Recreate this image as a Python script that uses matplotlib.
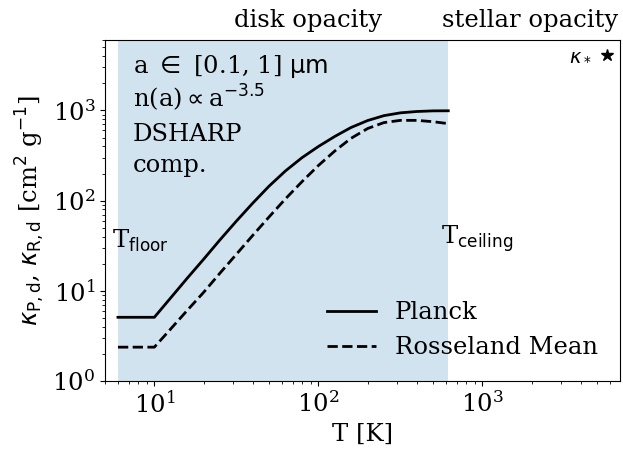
import numpy as np
import matplotlib
matplotlib.use("Agg")
import matplotlib.pyplot as plt
import matplotlib.transforms as mtransforms

plt.rcParams['font.family'] = 'serif'
plt.rcParams['font.serif'] = ['DejaVu Serif']
plt.rcParams['mathtext.fontset'] = 'dejavusans'
plt.rcParams['font.size'] = 17.5

# Temperatures [K] and mean opacities [cm^2 g^-1]
T_grid = [6, 10, 12.6, 15.8, 20.0, 25.1, 31.6, 39.8, 50.1, 63.1, 79.4, 100,
          126, 158, 200, 251, 316, 398, 501, 620]
kappa_planck = [5.1, 5.1, 8.4, 13.7, 22.5, 36.7, 59.2, 93.8, 145, 214, 299, 398,
                515, 646, 773, 875, 940, 973, 989, 991]
kappa_ross = [2.38, 2.38, 3.80, 6.03, 9.66, 15.7, 25.4, 41.2, 66.1, 105, 162, 245,
              355, 490, 631, 733, 776, 776, 750, 714]

T_floor = 6
T_ceiling = 620
T_star = 5780
kappa_star = 4070

fig = plt.figure(figsize=(6.23, 4.57), dpi=100)
ax = fig.add_axes([0.1685, 0.166, 0.8265, 0.746])

ax.axvspan(T_floor, T_ceiling, color='tab:blue', alpha=0.2, lw=0)
ax.loglog(T_grid, kappa_planck, 'k-', lw=2, label='Planck')
ax.loglog(T_grid, kappa_ross, 'k--', lw=2, label='Rosseland Mean')
ax.plot([T_star], [kappa_star], 'k*', ms=9)
ax.text(T_star * 0.8, kappa_star, r'$\kappa_*$', ha='right', va='center', fontsize=14)

ax.set_xlim(5, 6900)
ax.set_ylim(1, 6000)
ax.set_xlabel('T [K]')
ax.set_ylabel(r'$\kappa_\mathrm{P,d}$, $\kappa_\mathrm{R,d}$ [cm$^2$ g$^{-1}$]')

ax.text(5.5, 36, r'T$_\mathrm{floor}$', ha='left', va='center')
ax.text(560, 38, r'T$_\mathrm{ceiling}$', ha='left', va='center')

# grain info, one line at a time for even spacing
info = ['a $\\in$ [0.1, 1] $\\mathrm{\\mu m}$', 'n(a)$\\propto$a$^{-3.5}$', 'DSHARP', 'comp.']
for line, yy in zip(info, [0.905, 0.804, 0.705, 0.613]):
    ax.text(0.054, yy, line, transform=ax.transAxes, ha='left', va='baseline')

trans = mtransforms.blended_transform_factory(ax.transData, ax.transAxes)
ax.text(87, 1.025, 'disk opacity', transform=trans, ha='center', va='bottom')
ax.text(1960, 1.025, 'stellar opacity', transform=trans, ha='center', va='bottom')

ax.legend(loc='lower right', frameon=False, borderaxespad=0.5)

fig.savefig('out.png', dpi=100)
